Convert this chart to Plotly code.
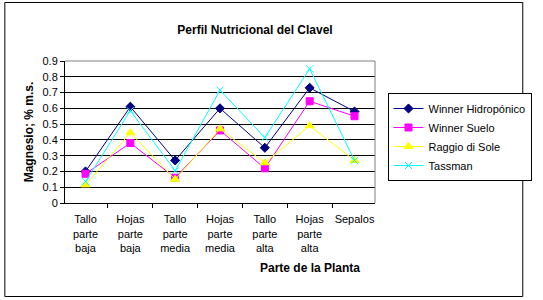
import plotly.graph_objects as go

categories = ["Tallo<br>parte<br>baja", "Hojas<br>parte<br>baja", "Tallo<br>parte<br>media",
              "Hojas<br>parte<br>media", "Tallo<br>parte<br>alta", "Hojas<br>parte<br>alta", "Sepalos"]
hidroponico = [0.20, 0.61, 0.27, 0.60, 0.35, 0.73, 0.58]
suelo = [0.185, 0.38, 0.16, 0.46, 0.22, 0.645, 0.55]
raggio = [0.115, 0.445, 0.15, 0.47, 0.255, 0.49, 0.27]
tassman = [0.135, 0.585, 0.205, 0.715, 0.415, 0.85, 0.27]
y_ticks = [0, 0.1, 0.2, 0.3, 0.4, 0.5, 0.6, 0.7, 0.8, 0.9]

series = [
    ("Winner Hidropónico", hidroponico, "#000080", "diamond", 7),
    ("Winner Suelo", suelo, "#FF00FF", "square", 7),
    ("Raggio di Sole", raggio, "#FFFF00", "triangle-up", 8),
    ("Tassman", tassman, "#00FFFF", "x-thin", 7),
]

FONT = "Liberation Sans, Arial, sans-serif"
fig = go.Figure()
for name, vals, color, sym, size in series:
    fig.add_trace(go.Scatter(
        x=categories, y=vals, name=name, mode="lines+markers",
        line=dict(color=color, width=1),
        marker=dict(symbol=sym, size=size, color=color, line=dict(color=color, width=1)),
    ))

W, H = 543, 300
L, R, T, B = 65, 156, 61, 97
pw, ph = W - L - R, H - T - B

def px_x(x):
    return (x - L) / pw

def px_y(y):
    return (H - B - y) / ph

fig.update_layout(
    width=W, height=H,
    margin=dict(l=L, r=R, t=T, b=B),
    paper_bgcolor="white", plot_bgcolor="white",
    font=dict(family=FONT, size=11, color="black"),
    title=dict(text="<b>Perfil Nutricional del Clavel</b>", x=255 / W, xanchor="center",
               y=(H - 30) / H, yanchor="middle", font=dict(size=12, family=FONT, color="black")),
    showlegend=True,
    legend=dict(x=px_x(400), y=px_y(93), xanchor="left", yanchor="top",
                bordercolor="black", borderwidth=1, bgcolor="white",
                font=dict(size=11, family=FONT, color="black"),
                tracegroupgap=0, itemwidth=30),
    xaxis=dict(
        type="category", showline=True, linecolor="black", linewidth=1,
        ticks="outside", ticklen=4, tickcolor="black", tickson="boundaries",
        showgrid=False, tickfont=dict(size=11), tickangle=0, ticklabelstandoff=6,
        fixedrange=True,
    ),
    yaxis=dict(
        range=[0, 0.9], tickvals=y_ticks, ticktext=[f"{v:g}" for v in y_ticks],
        showline=True, linecolor="black", linewidth=1,
        ticks="outside", ticklen=4, tickcolor="black",
        showgrid=True, gridcolor="black", gridwidth=1, zeroline=False,
        tickfont=dict(size=11),
        title=dict(text="<b>Magnesio; % m.s.</b>", font=dict(size=12), standoff=6),
    ),
    annotations=[
        dict(text="<b>Parte de la Planta</b>", xref="paper", yref="paper",
             x=px_x(320), y=px_y(268), xanchor="center", yanchor="middle",
             showarrow=False, font=dict(size=12, family=FONT, color="black")),
    ],
    shapes=[
        dict(type="line", xref="paper", yref="paper", x0=0, x1=1, y0=1, y1=1,
             line=dict(color="#808080", width=1), layer="above"),
        dict(type="line", xref="paper", yref="paper", x0=1, x1=1, y0=0, y1=1,
             line=dict(color="#808080", width=1), layer="above"),
        dict(type="rect", xref="paper", yref="paper",
             x0=px_x(2.5), x1=px_x(540.5), y0=px_y(296.5), y1=px_y(2.5),
             line=dict(color="black", width=1), layer="below"),
    ],
)

fig.write_html("out.html")
